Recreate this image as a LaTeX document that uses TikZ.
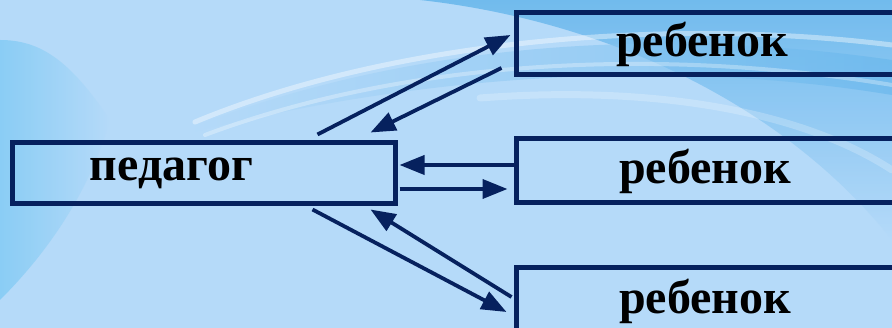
\documentclass[tikz,border=0pt]{standalone}
\usepackage{fontspec}
\setmainfont{Liberation Serif}
\usetikzlibrary{arrows.meta}
\definecolor{navy}{HTML}{06215E}
\definecolor{bgbase}{HTML}{B5DAF9}
\definecolor{bgleft}{HTML}{80CAF4}
\definecolor{bgright}{HTML}{66B6EC}
\tikzset{
  box/.style={draw=navy, line width=5pt, rectangle, inner sep=0pt,
    font=\fontsize{48}{48}\selectfont\bfseries, text=black},
  arr/.style={draw=navy, line width=3.8pt, -{Triangle[length=25pt,width=19pt]}},
  swoosh/.style={draw=white, line cap=round}
}
\begin{document}
\begin{tikzpicture}[x=1pt,y=-1pt]
\useasboundingbox (0,0) rectangle (892,328);
% background
\fill[bgbase] (0,0) rectangle (892,328);
\shade[left color=bgleft, right color=bgbase, opacity=0.8]
  (0,40) .. controls (40,40) and (70,60) .. (110,120)
  .. controls (90,190) and (50,250) .. (0,300) -- cycle;
\shade[top color=bgright, bottom color=bgbase, opacity=0.85]
  (420,0) .. controls (600,20) and (780,100) .. (892,240) -- (892,0) -- cycle;
\shade[left color=bgbase, right color=bgright, opacity=0.6]
  (190,128) .. controls (400,45) and (650,25) .. (892,60) -- (892,95)
  .. controls (650,55) and (400,80) .. (190,133) -- cycle;
\draw[swoosh, line width=5pt, opacity=0.4]
  (195,122) .. controls (380,45) and (650,15) .. (892,45);
\draw[swoosh, line width=4pt, opacity=0.3]
  (205,135) .. controls (400,62) and (650,45) .. (892,85);
\draw[swoosh, line width=7pt, opacity=0.22]
  (480,98) .. controls (650,85) and (800,110) .. (892,170);
% boxes
\node[box, minimum width=383pt, minimum height=61pt, text width=383pt, align=left]
  (ped) at (203.5,173.5) {\hspace*{78pt}\raisebox{-5pt}{педагог}};
\node[box, minimum width=384pt, minimum height=62pt] (c1) at (708,44)
  {\hspace*{-12pt}\raisebox{-1pt}{ребенок}};
\node[box, minimum width=384pt, minimum height=64pt] (c2) at (708,171)
  {\hspace*{-6pt}ребенок};
\node[box, minimum width=384pt, minimum height=66pt] (c3) at (708,301)
  {\hspace*{-6pt}\raisebox{-2pt}{ребенок}};
% connectors
\draw[arr] ([shift={(-80,-6)}]ped.north east) -- ([shift={(-3,-9)}]c1.west);
\draw[arr] ([shift={(-12,24)}]c1.west) -- ([shift={(-27,-8)}]ped.north east);
\draw[arr] ([shift={(0,-6)}]c2.west) -- ([shift={(2,-8.5)}]ped.east);
\draw[arr] ([shift={(2,15.5)}]ped.east) -- ([shift={(-6,18)}]c2.west);
\draw[arr] ([shift={(-85,3)}]ped.south east) -- ([shift={(-7,11)}]c3.west);
\draw[arr] ([shift={(-2,-4)}]c3.west) -- ([shift={(-27,3)}]ped.south east);
\end{tikzpicture}
\end{document}
